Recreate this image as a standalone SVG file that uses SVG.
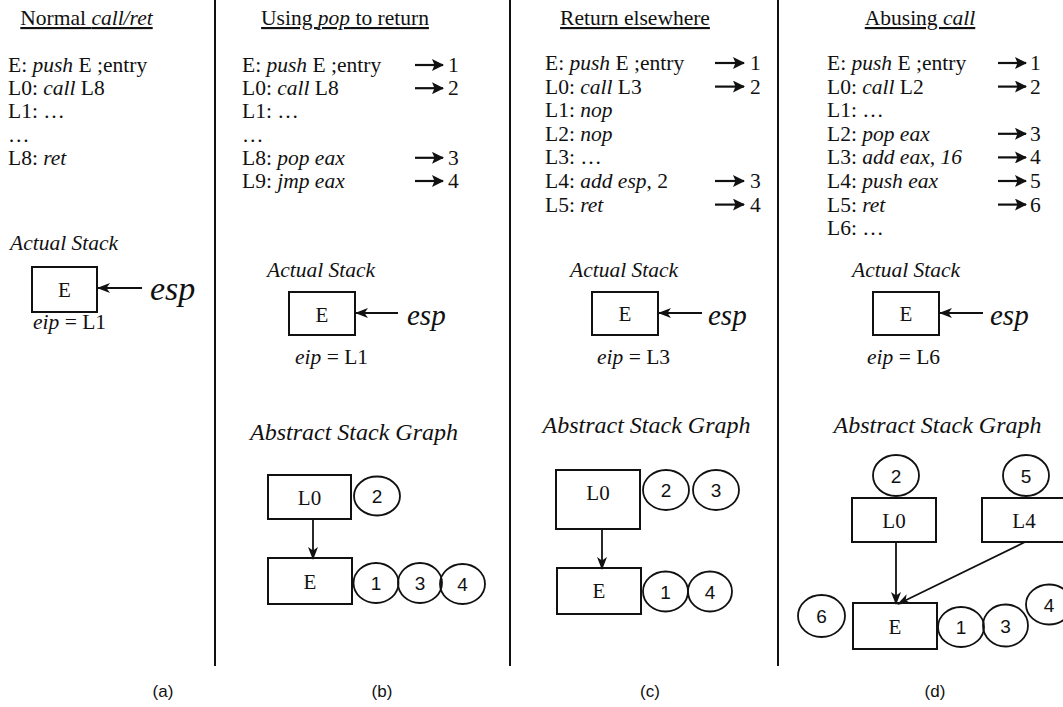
<svg xmlns="http://www.w3.org/2000/svg" width="1063" height="707" viewBox="0 0 1063 707">
  <style>
    .serif { font-family: "Liberation Serif", "Times New Roman", serif; fill: #111; }
    .code { font-size: 21.5px; }
    .title { font-size: 21.5px; text-decoration: underline; }
    .it { font-style: italic; }
    .lbl { font-size: 21.5px; font-style: italic; }
    .asg { font-size: 24px; font-style: italic; }
    .esp { font-style: italic; font-size: 29px; }
    .node { font-size: 21px; }
    .num { font-family: "Liberation Sans", Arial, sans-serif; font-size: 19px; fill: #111; }
    .cap { font-family: "Liberation Sans", Arial, sans-serif; font-size: 17px; fill: #111; }
    .box { fill: #fff; stroke: #111; stroke-width: 2; }
    .ring { fill: none; stroke: #111; stroke-width: 1.8; }
    .sep { stroke: #111; stroke-width: 2; }
    .edge { stroke: #111; stroke-width: 1.8; fill: none; marker-end: url(#head); }
    .ptr { stroke: #111; stroke-width: 2; fill: none; marker-end: url(#head); }
    .step { stroke: #111; stroke-width: 2.2; fill: none; marker-end: url(#bold); }
  </style>
  <defs>
    <marker id="head" markerUnits="userSpaceOnUse" markerWidth="13" markerHeight="10" refX="12" refY="5" orient="auto">
      <path d="M0,0 L13,5 L0,10 L3.5,5 z" fill="#111"/>
    </marker>
    <marker id="bold" markerUnits="userSpaceOnUse" markerWidth="12" markerHeight="12" refX="11" refY="6" orient="auto">
      <path d="M0,0 L12,6 L0,12 L2.5,6 z" fill="#111"/>
    </marker>
  </defs>

  <rect width="1063" height="707" fill="#fff"/>

  <!-- column separators -->
  <g id="separators">
    <line class="sep" x1="215" y1="0" x2="215" y2="666"/>
    <line class="sep" x1="510" y1="0" x2="510" y2="666"/>
    <line class="sep" x1="778" y1="0" x2="778" y2="666"/>
  </g>

  <!-- (a) normal call/ret -->
  <g id="col-a" class="serif">
    <text class="title" x="86.5" y="25" text-anchor="middle">Normal <tspan class="it">call/ret</tspan></text>
    <g class="code">
      <text x="8" y="72">E: <tspan class="it">push</tspan> E ;entry</text>
      <text x="8" y="95.2">L0: <tspan class="it">call</tspan> L8</text>
      <text x="8" y="118.4">L1: …</text>
      <text x="8" y="141.6">…</text>
      <text x="8" y="164.8">L8: <tspan class="it">ret</tspan></text>
    </g>
    <text class="lbl" x="10" y="250">Actual Stack</text>
  </g>
  <g id="stack-a" class="serif">
    <rect class="box" x="32" y="267" width="65" height="45"/>
    <text class="node" x="64.5" y="297" text-anchor="middle">E</text>
    <text class="esp" x="150" y="300" style="font-size:34px">esp</text>
    <text class="code" x="33" y="329"><tspan class="it">eip</tspan> = L1</text>
  </g>

  <!-- (b) using pop to return -->
  <g id="col-b" class="serif">
    <text class="title" x="345" y="25" text-anchor="middle">Using <tspan class="it">pop</tspan> to return</text>
    <g class="code">
      <text x="242" y="72">E: <tspan class="it">push</tspan> E ;entry</text>
      <text x="242" y="95.2">L0: <tspan class="it">call</tspan> L8</text>
      <text x="242" y="118.4">L1: …</text>
      <text x="242" y="141.6">…</text>
      <text x="242" y="164.8">L8: <tspan class="it">pop eax</tspan></text>
      <text x="242" y="188">L9: <tspan class="it">jmp eax</tspan></text>
      <text x="448" y="72">1</text>
      <text x="448" y="95.2">2</text>
      <text x="448" y="164.8">3</text>
      <text x="448" y="188">4</text>
    </g>
    <text class="lbl" x="267" y="277">Actual Stack</text>
  </g>
  <g id="stack-b" class="serif">
    <rect class="box" x="289" y="292" width="66" height="43"/>
    <text class="node" x="322" y="322" text-anchor="middle">E</text>
    <text class="esp" x="407" y="325">esp</text>
    <text class="code" x="295" y="364"><tspan class="it">eip</tspan> = L1</text>
    <text class="asg" x="354" y="440" text-anchor="middle">Abstract Stack Graph</text>
  </g>
  <g id="b-L0">
    <rect class="box" x="268" y="475" width="83" height="44"/>
    <text class="serif node" x="309.5" y="505" text-anchor="middle">L0</text>
    <ellipse class="ring" cx="377" cy="496" rx="23" ry="19.5"/>
    <text class="num" x="377" y="503" text-anchor="middle">2</text>
  </g>
  <g id="b-E">
    <rect class="box" x="268" y="558" width="84" height="46"/>
    <text class="serif node" x="310" y="589" text-anchor="middle">E</text>
    <ellipse class="ring" cx="376" cy="583" rx="22.5" ry="20"/>
    <text class="num" x="376" y="590" text-anchor="middle">1</text>
    <ellipse class="ring" cx="420" cy="583" rx="22" ry="20"/>
    <text class="num" x="420" y="590" text-anchor="middle">3</text>
    <ellipse class="ring" cx="462.5" cy="584" rx="22.5" ry="20"/>
    <text class="num" x="462.5" y="591" text-anchor="middle">4</text>
  </g>

  <!-- (c) return elsewhere -->
  <g id="col-c" class="serif">
    <text class="title" x="635" y="25" text-anchor="middle">Return elsewhere</text>
    <g class="code">
      <text x="545" y="70">E: <tspan class="it">push</tspan> E ;entry</text>
      <text x="545" y="93.6">L0: <tspan class="it">call</tspan> L3</text>
      <text x="545" y="117.2">L1: <tspan class="it">nop</tspan></text>
      <text x="545" y="140.8">L2: <tspan class="it">nop</tspan></text>
      <text x="545" y="164.4">L3: …</text>
      <text x="545" y="188">L4: <tspan class="it">add esp</tspan>, 2</text>
      <text x="545" y="211.6">L5: <tspan class="it">ret</tspan></text>
      <text x="750" y="70">1</text>
      <text x="750" y="93.6">2</text>
      <text x="750" y="188">3</text>
      <text x="750" y="211.6">4</text>
    </g>
    <text class="lbl" x="570" y="277">Actual Stack</text>
  </g>
  <g id="stack-c" class="serif">
    <rect class="box" x="592" y="292" width="66" height="43"/>
    <text class="node" x="625" y="321" text-anchor="middle">E</text>
    <text class="esp" x="708" y="325">esp</text>
    <text class="code" x="597" y="364"><tspan class="it">eip</tspan> = L3</text>
    <text class="asg" x="646.5" y="433" text-anchor="middle">Abstract Stack Graph</text>
  </g>
  <g id="c-L0">
    <rect class="box" x="556" y="470" width="84" height="59"/>
    <text class="serif node" x="598" y="500" text-anchor="middle">L0</text>
    <ellipse class="ring" cx="666" cy="490" rx="23" ry="20"/>
    <text class="num" x="666" y="497" text-anchor="middle">2</text>
    <ellipse class="ring" cx="716" cy="490" rx="23" ry="20"/>
    <text class="num" x="716" y="497" text-anchor="middle">3</text>
  </g>
  <g id="c-E">
    <rect class="box" x="557" y="568" width="84" height="46"/>
    <text class="serif node" x="599" y="598" text-anchor="middle">E</text>
    <ellipse class="ring" cx="665.5" cy="591.5" rx="22.5" ry="20"/>
    <text class="num" x="665.5" y="598.5" text-anchor="middle">1</text>
    <ellipse class="ring" cx="710" cy="591.5" rx="22" ry="20"/>
    <text class="num" x="710" y="598.5" text-anchor="middle">4</text>
  </g>

  <!-- (d) abusing call -->
  <g id="col-d" class="serif">
    <text class="title" x="920" y="25" text-anchor="middle">Abusing <tspan class="it">call</tspan></text>
    <g class="code">
      <text x="827" y="70">E: <tspan class="it">push</tspan> E ;entry</text>
      <text x="827" y="93.6">L0: <tspan class="it">call</tspan> L2</text>
      <text x="827" y="117.2">L1: …</text>
      <text x="827" y="140.8">L2: <tspan class="it">pop eax</tspan></text>
      <text x="827" y="164.4">L3: <tspan class="it">add eax, 16</tspan></text>
      <text x="827" y="188">L4: <tspan class="it">push eax</tspan></text>
      <text x="827" y="211.6">L5: <tspan class="it">ret</tspan></text>
      <text x="827" y="235.2">L6: …</text>
      <text x="1030" y="70">1</text>
      <text x="1030" y="93.6">2</text>
      <text x="1030" y="140.8">3</text>
      <text x="1030" y="164.4">4</text>
      <text x="1030" y="188">5</text>
      <text x="1030" y="211.6">6</text>
    </g>
    <text class="lbl" x="852" y="277">Actual Stack</text>
  </g>
  <g id="stack-d" class="serif">
    <rect class="box" x="873" y="292" width="66" height="43"/>
    <text class="node" x="906" y="321" text-anchor="middle">E</text>
    <text class="esp" x="990" y="325">esp</text>
    <text class="code" x="867" y="364"><tspan class="it">eip</tspan> = L6</text>
    <text class="asg" x="937.5" y="433" text-anchor="middle">Abstract Stack Graph</text>
  </g>
  <g id="d-L0">
    <ellipse class="ring" cx="896" cy="475.5" rx="23" ry="20.5"/>
    <text class="num" x="896" y="482.5" text-anchor="middle">2</text>
    <rect class="box" x="852" y="498" width="84" height="44"/>
    <text class="serif node" x="894" y="528" text-anchor="middle">L0</text>
  </g>
  <g id="d-L4">
    <ellipse class="ring" cx="1026" cy="475.5" rx="23" ry="20.5"/>
    <text class="num" x="1026" y="482.5" text-anchor="middle">5</text>
    <rect class="box" x="982" y="498" width="84" height="44"/>
    <text class="serif node" x="1024" y="528" text-anchor="middle">L4</text>
  </g>
  <g id="d-E">
    <ellipse class="ring" cx="821.5" cy="616" rx="23.5" ry="21"/>
    <text class="num" x="821.5" y="623" text-anchor="middle">6</text>
    <rect class="box" x="853" y="603" width="84" height="46"/>
    <text class="serif node" x="895" y="634" text-anchor="middle">E</text>
    <ellipse class="ring" cx="961" cy="627" rx="23" ry="20"/>
    <text class="num" x="961" y="634" text-anchor="middle">1</text>
    <ellipse class="ring" cx="1005.5" cy="625.5" rx="22.5" ry="21"/>
    <text class="num" x="1005.5" y="632.5" text-anchor="middle">3</text>
    <ellipse class="ring" cx="1049" cy="604.5" rx="23" ry="20"/>
    <text class="num" x="1049" y="611.5" text-anchor="middle">4</text>
  </g>

  <!-- connectors: esp pointers, step arrows and stack-graph edges -->
  <g id="connectors">
    <line class="ptr" x1="142" y1="288" x2="98" y2="288"/>
    <line class="ptr" x1="398" y1="313" x2="356" y2="313"/>
    <line class="ptr" x1="702" y1="313" x2="659" y2="313"/>
    <line class="ptr" x1="983" y1="313" x2="940" y2="313"/>

    <line class="step" x1="415" y1="65" x2="443" y2="65"/>
    <line class="step" x1="415" y1="88.2" x2="443" y2="88.2"/>
    <line class="step" x1="415" y1="157.8" x2="443" y2="157.8"/>
    <line class="step" x1="415" y1="181" x2="443" y2="181"/>

    <line class="step" x1="715" y1="63" x2="744" y2="63"/>
    <line class="step" x1="715" y1="86.6" x2="744" y2="86.6"/>
    <line class="step" x1="715" y1="181" x2="744" y2="181"/>
    <line class="step" x1="715" y1="204.6" x2="744" y2="204.6"/>

    <line class="step" x1="998" y1="63" x2="1026" y2="63"/>
    <line class="step" x1="998" y1="86.6" x2="1026" y2="86.6"/>
    <line class="step" x1="998" y1="133.8" x2="1026" y2="133.8"/>
    <line class="step" x1="998" y1="157.4" x2="1026" y2="157.4"/>
    <line class="step" x1="998" y1="181" x2="1026" y2="181"/>
    <line class="step" x1="998" y1="204.6" x2="1026" y2="204.6"/>

    <line class="edge" x1="313" y1="519" x2="313" y2="559"/>
    <line class="edge" x1="602" y1="529" x2="602" y2="569"/>
    <line class="edge" x1="896" y1="542" x2="896" y2="604"/>
    <line class="edge" x1="1025" y1="542" x2="898" y2="604"/>
  </g>

  <!-- panel captions -->
  <g id="captions">
    <text class="cap" x="163" y="697" text-anchor="middle">(a)</text>
    <text class="cap" x="382" y="697" text-anchor="middle">(b)</text>
    <text class="cap" x="650" y="697" text-anchor="middle">(c)</text>
    <text class="cap" x="935" y="697" text-anchor="middle">(d)</text>
  </g>
</svg>
